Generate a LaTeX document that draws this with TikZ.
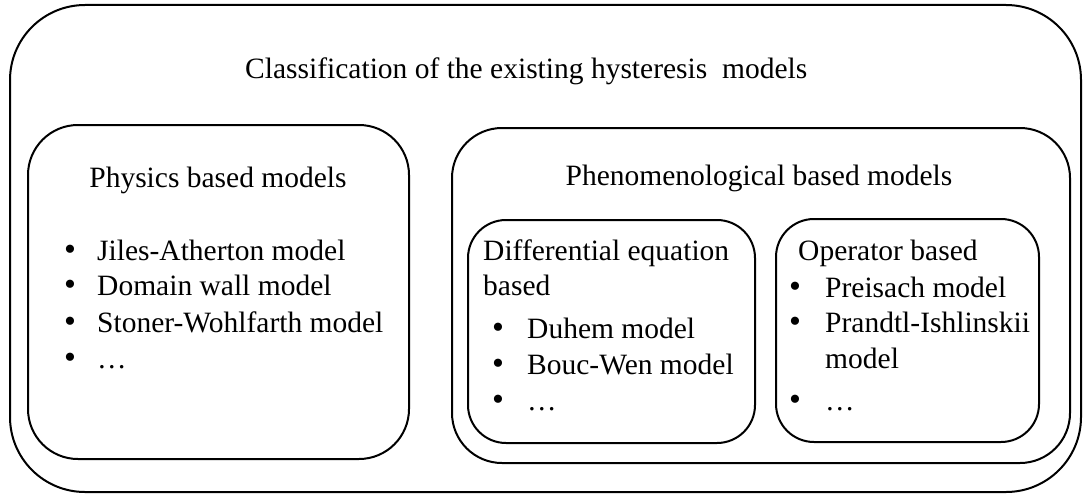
\documentclass[tikz,border=0pt]{standalone}
\usepackage{fontspec}
\setmainfont{Liberation Serif}
\usepackage{tikz}

\begin{document}
\begin{tikzpicture}[x=1pt,y=-1pt]
\tikzset{box/.style = {draw, line width=2pt, inner sep=0pt}}
\tikzset{txt/.style = {inner sep=0pt, anchor=base west, font=\fontsize{29.5}{36}\selectfont}}
\tikzset{ctxt/.style = {txt, anchor=base}}
\tikzset{bul/.style = {inner sep=0pt, anchor=base, font=\fontsize{34}{36}\selectfont}}
\useasboundingbox (0,0) rectangle (1083,495);

% boxes
\node[box, rounded corners=75pt, minimum width=1071pt, minimum height=487pt] (all) at (545.5,248.5) {};
\node[box, rounded corners=50pt, minimum width=381pt, minimum height=334pt] (phys) at (218.5,292) {};
\node[box, rounded corners=50pt, minimum width=618pt, minimum height=335pt] (phen) at (761,295.5) {};
\node[box, rounded corners=38pt, minimum width=287pt, minimum height=223pt] (diff) at (611.5,331.5) {};
\node[box, rounded corners=38pt, minimum width=263pt, minimum height=223pt] (oper) at (907.5,330.5) {};

% titles
\node[txt] (title) at (245,78) {Classification of the existing hysteresis\ \ models};
\node[ctxt] (physt) at (218,187) {Physics based models};
\node[ctxt] (phent) at (759,185) {Phenomenological based models};

% physics based
\node[bul] (pb1) at (70,260) {•};
\node[txt] (p1) at (97,260) {Jiles-Atherton model};
\node[bul] (pb2) at (70,295) {•};
\node[txt] (p2) at (97,295) {Domain wall model};
\node[bul] (pb3) at (70,332) {•};
\node[txt] (p3) at (97,332) {Stoner-Wohlfarth model};
\node[bul] (pb4) at (70,368) {•};
\node[txt] (p4) at (97,368) {…};

% differential equation based
\node[txt] (difft) at (483,260) {Differential equation};
\node[txt] (difft2) at (483,295) {based};
\node[bul] (db1) at (498,338) {•};
\node[txt] (d1) at (527,338) {Duhem model};
\node[bul] (db2) at (498,374) {•};
\node[txt] (d2) at (527,374) {Bouc-Wen model};
\node[bul] (db3) at (498,410) {•};
\node[txt] (d3) at (527,410) {…};

% operator based
\node[txt] (opert) at (798,260) {Operator based};
\node[bul] (ob1) at (795,297) {•};
\node[txt] (o1) at (825,297) {Preisach model};
\node[bul] (ob2) at (795,332) {•};
\node[txt] (o2) at (825,332) {Prandtl-Ishlinskii};
\node[txt] (o2b) at (825,368) {model};
\node[bul] (ob3) at (795,410) {•};
\node[txt] (o3) at (825,410) {…};
\end{tikzpicture}
\end{document}
